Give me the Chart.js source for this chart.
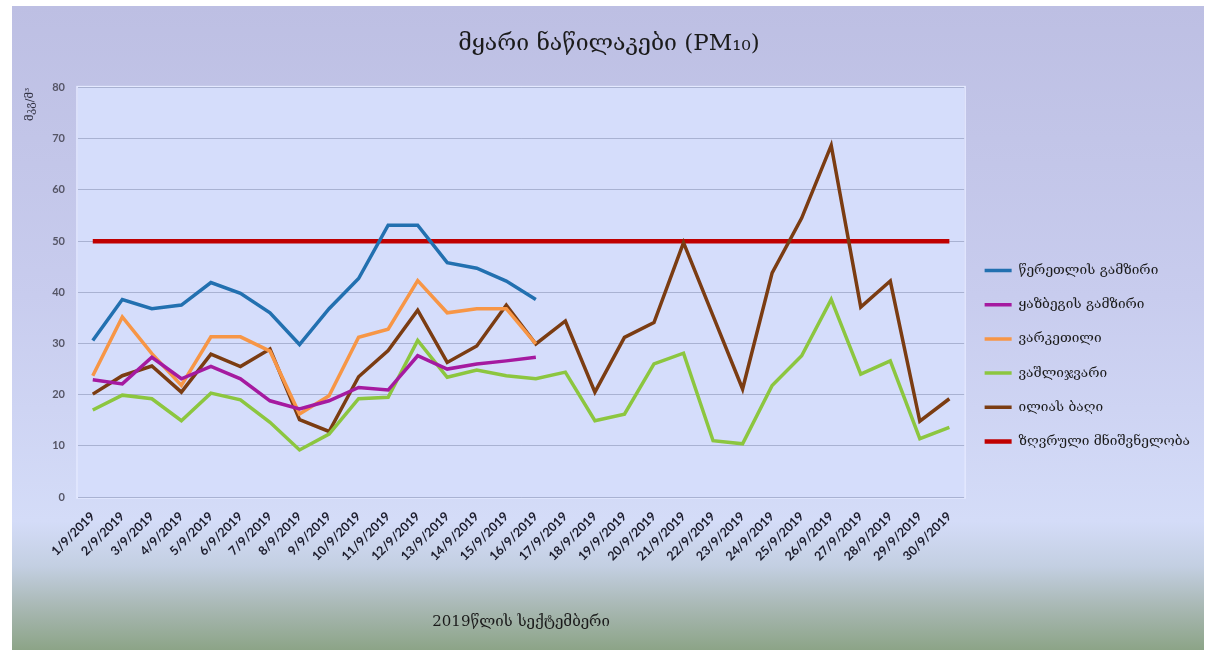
<!DOCTYPE html>
<html>
<head>
<meta charset="utf-8">
<script src="https://cdn.jsdelivr.net/npm/chart.js@4"></script>
<style>
  html, body { margin: 0; padding: 0; background: #fff; }
  #wrap { width: 1218px; height: 651px; }
</style>
</head>
<body>
<div id="wrap"><canvas id="pm10"></canvas></div>
<script>
// September 2019, daily PM10 means
const days = [];
for (let d = 1; d <= 30; d++) days.push(d + '/9/2019');

const tsereteli  = [30.6, 38.6, 36.8, 37.5, 41.9, 39.8, 36.0, 29.8, 36.8, 42.7, 53.1, 53.1, 45.8, 44.7, 42.2, 38.6];
const kazbegi    = [22.9, 22.1, 27.3, 23.1, 25.5, 23.1, 18.8, 17.2, 18.8, 21.4, 20.9, 27.6, 25.0, 26.0, 26.6, 27.3];
const varketili  = [23.7, 35.2, 28.0, 21.8, 31.3, 31.3, 28.5, 16.2, 19.8, 31.2, 32.8, 42.3, 36.0, 36.8, 36.8, 29.9];
const vashlijvari = [17.0, 19.9, 19.2, 14.9, 20.3, 19.0, 14.6, 9.2, 12.3, 19.2, 19.5, 30.6, 23.4, 24.8, 23.7, 23.1,
                     24.4, 14.9, 16.2, 26.0, 28.1, 11.0, 10.4, 21.8, 27.6, 38.6, 24.0, 26.6, 11.4, 13.6];
const iliasBagi  = [20.1, 23.7, 25.6, 20.5, 27.9, 25.5, 28.9, 15.1, 12.8, 23.5, 28.6, 36.5, 26.3, 29.5, 37.5, 29.9,
                    34.4, 20.5, 31.2, 34.1, 49.7, 35.4, 21.1, 43.8, 54.5, 68.7, 37.1, 42.2, 14.8, 19.2];
const limitValue = 50;
const limit = days.map(() => limitValue);

const yTicks = [0, 10, 20, 30, 40, 50, 60, 70, 80];

const georgian = '"DejaVu Serif", "DejaVu Sans", serif';

// backdrop: white frame, vertical gradient panel, light plot area
const backdrop = {
  id: 'backdrop',
  beforeDraw(chart) {
    const { ctx, chartArea: a } = chart;
    ctx.save();
    ctx.fillStyle = '#ffffff';
    ctx.fillRect(0, 0, chart.width, chart.height);
    const g = ctx.createLinearGradient(0, 6, 0, 650);
    g.addColorStop(0, '#bdbfe3');
    g.addColorStop(0.45, '#c8ccee');
    g.addColorStop(0.8, '#d4dcf8');
    g.addColorStop(0.87, '#c3cfe2');
    g.addColorStop(0.93, '#aab9b6');
    g.addColorStop(1, '#8ca487');
    ctx.fillStyle = g;
    ctx.fillRect(12, 6, 1192, 644);
    ctx.fillStyle = '#d5ddfb';
    ctx.fillRect(a.left, a.top, a.right - a.left, a.bottom - a.top);
    ctx.strokeStyle = '#e4e9ff';
    ctx.lineWidth = 1.5;
    ctx.strokeRect(a.left - 1, a.top - 1, a.right - a.left + 2, a.bottom - a.top + 2);
    ctx.restore();
  }
};

function series(label, data, color, width) {
  return {
    label, data,
    borderColor: color,
    backgroundColor: color,
    borderWidth: width,
    pointRadius: 0,
    pointHoverRadius: 0,
    tension: 0,
    fill: false
  };
}

new Chart(document.getElementById('pm10'), {
  type: 'line',
  data: {
    labels: days,
    datasets: [
      series('წერეთლის გამზირი', tsereteli, '#2270b0', 3.5),
      series('ყაზბეგის გამზირი', kazbegi, '#a51aa0', 3.5),
      series('ვარკეთილი', varketili, '#f79646', 3.5),
      series('ვაშლიჯვარი', vashlijvari, '#8cc63f', 3.5),
      series('ილიას ბაღი', iliasBagi, '#7b3c12', 3.5),
      series('ზღვრული მნიშვნელობა', limit, '#c00000', 4.5)
    ]
  },
  options: {
    responsive: true,
    maintainAspectRatio: false,
    animation: false,
    layout: { padding: { left: 18, top: 6, right: 18, bottom: 10 } },
    plugins: {
      title: {
        display: true,
        text: 'მყარი ნაწილაკები (PM₁₀)',
        color: '#1b1b1b',
        font: { family: georgian, size: 23, weight: 'normal' },
        padding: { top: 24, bottom: 30 }
      },
      legend: {
        position: 'right',
        title: {
          // empty title, pushes the entries down a little
          display: true,
          text: '',
          font: { size: 10 },
          padding: { top: 26, bottom: 27 }
        },
        labels: {
          usePointStyle: true,
          pointStyle: 'line',
          pointStyleWidth: 27,
          color: '#1b1b1b',
          font: { family: georgian, size: 13.7 },
          padding: 20.5
        }
      },
      tooltip: { enabled: false }
    },
    scales: {
      x: {
        offset: true,
        grid: { display: false, drawTicks: false },
        border: { display: false },
        ticks: {
          autoSkip: false,
          maxRotation: 45,
          minRotation: 45,
          padding: 12,
          color: '#1c1c2c',
          font: { family: 'Lato, "Open Sans", sans-serif', size: 12.5, weight: 'bold' }
        },
        title: {
          display: true,
          text: '2019წლის სექტემბერი',
          color: '#1b1b1b',
          font: { family: georgian, size: 15 },
          padding: { top: 4, bottom: 10 }
        },
        afterFit(scale) { scale.height = 144; }
      },
      y: {
        min: 0,
        max: 80,
        afterBuildTicks(scale) { scale.ticks = yTicks.map(v => ({ value: v })); },
        grid: { color: '#a9b2d2', lineWidth: 1, drawTicks: false },
        border: { display: false },
        ticks: {
          padding: 13,
          color: '#555566',
          font: { family: 'Lato, "Open Sans", sans-serif', size: 11, weight: 'bold' }
        },
        title: {
          display: true,
          text: 'მკგ/მ³',
          align: 'end',
          color: '#333344',
          font: { family: georgian, size: 11 },
          padding: { top: 6, bottom: 2 }
        },
        afterFit(scale) { scale.width = 60; }
      }
    }
  },
  plugins: [backdrop]
});
</script>
</body>
</html>
